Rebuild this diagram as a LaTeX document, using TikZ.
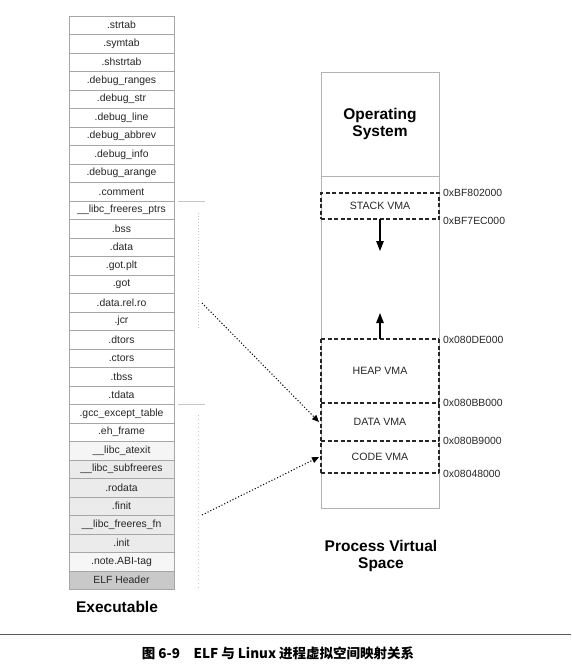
\documentclass[tikz,border=0pt]{standalone}
\usepackage{fontspec}
\setmainfont{Liberation Sans}
\newfontfamily\cjkfont{Noto Sans CJK SC}
\usetikzlibrary{arrows.meta}
\begin{document}
\begin{tikzpicture}[x=1pt,y=-1pt,
  sect/.style={draw=gray!70, line width=0.5pt, minimum width=105pt, minimum height=18.5pt,
    inner sep=0pt, outer sep=0pt, font=\fontsize{10.4}{11}\selectfont, text=black!85},
  column/.style={draw=gray!60, line width=0.6pt, minimum width=118pt, inner sep=0pt, outer sep=0pt},
  vmaline/.style={draw=black!85, line width=1.1pt, dash pattern=on 4pt off 2.5pt},
  vma/.style={minimum width=118pt, inner sep=0pt, outer sep=0pt,
    font=\fontsize{10.6}{12}\selectfont, text=black!85},
  addr/.style={anchor=west, inner sep=0pt, font=\fontsize{10.4}{12}\selectfont, text=black!85},
  title/.style={font=\bfseries\fontsize{15.5}{17.5}\selectfont, align=center, inner sep=0pt},
  growarrow/.style={line width=1.1pt, -{Triangle[width=7.5pt,length=10pt]}},
  maparrow/.style={line width=1pt, dash pattern=on 1.1pt off 2pt, -{Triangle[width=6pt,length=7pt]}},
  guide/.style={gray!45, line width=0.5pt},
]
\useasboundingbox (0,0) rectangle (571,667);

% ---- sections of the executable, top to bottom ----
\foreach \name/\shade [count=\i] in {
  .strtab/white, .symtab/white, .shstrtab/white, .debug\_ranges/white, .debug\_str/white,
  .debug\_line/white, .debug\_abbrev/white, .debug\_info/white, .debug\_arange/white,
  .comment/white, \_\_libc\_freeres\_ptrs/white, .bss/white, .data/white, .got.plt/white,
  .got/white, .data.rel.ro/white, .jcr/white, .dtors/white, .ctors/white, .tbss/white,
  .tdata/white, .gcc\_except\_table/white, .eh\_frame/white, \_\_libc\_atexit/gray!8,
  \_\_libc\_subfreeres/gray!16, .rodata/gray!16, .finit/gray!16, \_\_libc\_freeres\_fn/gray!16,
  .init/gray!16, .note.ABI-tag/gray!7, ELF Header/gray!42}
  \node[sect, fill=\shade] (sec\i) at (121.5, {16+18.5*(\i-0.5)}) {\name};

\node[title] (exe) at (117,607) {Executable};

% segment guides beside the section table
\draw[guide] (178,201) -- (205,201);
\draw[guide] (178,404) -- (205,404);
\draw[guide, dash pattern=on 1pt off 2pt] (198,213) -- (198,330);
\draw[guide, dash pattern=on 1pt off 3pt] (198,415) -- (198,590);

% ---- process virtual space ----
\node[column, minimum height=436pt] (vspace) at (380,290) {};
\node[column, minimum height=104pt, title] (os) at (380,124) {Operating\\System};

\node[vma, vmaline, minimum height=26pt] (stack) at (380,206) {STACK VMA};
\node[vma, minimum height=64pt] (heap)  at (380,371) {HEAP VMA};
\node[vma, minimum height=38pt] (data)  at (380,422) {DATA VMA};
\node[vma, minimum height=32pt] (code)  at (380,457) {CODE VMA};

% dashed outline of the heap, data and code areas (shared edges drawn once)
\draw[vmaline] (heap.north west) -- (code.south west);
\draw[vmaline] (heap.north east) -- (code.south east);
\draw[vmaline] (heap.north west) -- (heap.north east);
\draw[vmaline] (data.north west) -- (data.north east);
\draw[vmaline] (code.north west) -- (code.north east);
\draw[vmaline] (code.south west) -- (code.south east);

\node[addr] (a1) at (443,193) {0xBF802000};
\node[addr] (a2) at (443,221) {0xBF7EC000};
\node[addr] (a3) at (443,340) {0x080DE000};
\node[addr] (a4) at (443,403) {0x080BB000};
\node[addr] (a5) at (443,441) {0x080B9000};
\node[addr] (a6) at (443,474) {0x08048000};

% growth directions of stack and heap
\coordinate (stackgrow) at (380,251);
\coordinate (heapgrow) at (380,313);
\draw[growarrow] (stack.south) -- (stackgrow);
\draw[growarrow] (heap.north) -- (heapgrow);

% mapping of segments onto VMAs
\coordinate (datasrc) at (202,303);
\coordinate (codesrc) at (202,515);
\draw[maparrow] (datasrc) -- ([xshift=-2pt]data.west);
\draw[maparrow] (codesrc) -- ([xshift=-2pt]code.west);

\node[title] (pvs) at (381,556) {Process Virtual\\Space};

% ---- caption ----
\draw[black!65, line width=1pt] (0,634) -- (571,634);
\node[inner sep=0pt, font=\cjkfont\bfseries\fontsize{13.5}{15}\selectfont] (cap) at (278,653)
  {图 6-9\hspace{1em}ELF 与 Linux 进程虚拟空间映射关系};
\end{tikzpicture}
\end{document}
